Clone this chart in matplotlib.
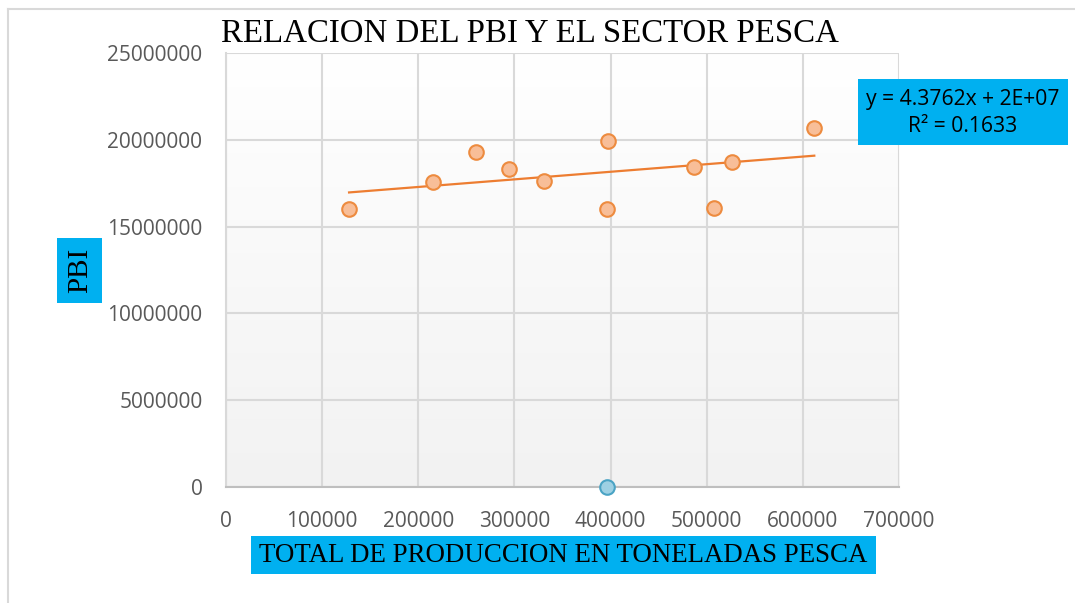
import numpy as np
import matplotlib
matplotlib.use("Agg")
import matplotlib.pyplot as plt
from matplotlib.lines import Line2D

# ---- data ----
produccion = [128000, 215400, 260100, 294500, 330900, 397500, 396500, 487000, 507800, 526500, 611900]
pbi = [16010000, 17570000, 19300000, 18320000, 17630000, 19930000, 16010000, 18430000, 16070000, 18720000, 20680000]
extra_x = [396800]
extra_y = [0]
slope = 4.3762
eq_text = "y = 4.3762x + 2E+07"
r2_text = "R² = 0.1633"
title = "RELACION DEL PBI Y EL SECTOR PESCA"
xlabel = "TOTAL DE PRODUCCION EN TONELADAS PESCA"
ylabel = "PBI"
xticks = [0, 100000, 200000, 300000, 400000, 500000, 600000, 700000]
yticks = [0, 5000000, 10000000, 15000000, 20000000, 25000000]

W, H = 1075, 603
fig = plt.figure(figsize=(W / 100, H / 100), dpi=100)
fig.patch.set_facecolor("white")

# outer chart border (top and left visible)
fig.add_artist(Line2D([8 / W, 1.0], [1 - 9 / H, 1 - 9 / H], color="#d9d9d9", lw=1.5, transform=fig.transFigure))
fig.add_artist(Line2D([8 / W, 8 / W], [0, 1 - 9 / H], color="#d9d9d9", lw=1.5, transform=fig.transFigure))

L, R, T, B = 226, 899, 53, 487
ax = fig.add_axes([L / W, 1 - B / H, (R - L) / W, (B - T) / H])
ax.set_xlim(0, 700000)
ax.set_ylim(0, 25000000)

# gradient background
grad = np.linspace(1.0, 0.0, 256).reshape(-1, 1)
top = np.array([1.0, 1.0, 1.0])
bot = np.array([0xf2, 0xf2, 0xf2]) / 255.0
img = top * grad[..., None] + bot * (1 - grad[..., None])
ax.imshow(img, extent=[0, 1, 0, 1], transform=ax.transAxes, aspect="auto", zorder=0)

ax.set_xticks(xticks)
ax.set_yticks(yticks)
ax.set_xticklabels([str(v) for v in xticks])
ax.set_yticklabels([str(v) for v in yticks])
ax.grid(True, color="#d9d9d9", lw=1.5, zorder=1)
ax.set_axisbelow(True)
for s in ["top", "right"]:
    ax.spines[s].set_visible(False)
ax.spines["left"].set_color("#d9d9d9")
ax.spines["left"].set_linewidth(1.5)
ax.spines["bottom"].set_color("#bfbfbf")
ax.spines["bottom"].set_linewidth(1.5)
ax.tick_params(length=0, colors="#595959", labelsize=15)
ax.tick_params(axis="y", pad=17)
ax.tick_params(axis="x", pad=17)
for lab in ax.get_xticklabels() + ax.get_yticklabels():
    lab.set_fontfamily("Open Sans")

# trendline
xm = np.mean(produccion)
ym = np.mean(pbi)
intercept = ym - slope * xm
tx = np.array([min(produccion), max(produccion)])
ax.plot(tx, slope * tx + intercept, color="#ED7D31", lw=1.6, zorder=3)

ax.scatter(produccion, pbi, s=110, facecolor="#F8BE98", edgecolor="#ED8B3F", linewidth=1.5, zorder=4, clip_on=False)
ax.scatter(extra_x, extra_y, s=110, facecolor="#9DD0E3", edgecolor="#4AA3C4", linewidth=1.5, zorder=5, clip_on=False)

# title
fig.text(530 / W, 1 - 34 / H, title, ha="center", va="center", fontsize=23.7,
         fontfamily="Liberation Serif", color="black")

# x label with blue box
fig.patches.append(plt.Rectangle((251 / W, 1 - 574 / H), 625 / W, 38 / H, transform=fig.transFigure,
                                 facecolor="#00B0F0", edgecolor="none", zorder=5))
fig.text(563 / W, 1 - 555 / H, xlabel, ha="center", va="center", fontsize=19.4,
         fontfamily="Liberation Serif", color="black", zorder=6)

# y label with blue box
fig.patches.append(plt.Rectangle((57 / W, 1 - 303 / H), 45 / W, 65 / H, transform=fig.transFigure,
                                 facecolor="#00B0F0", edgecolor="none", zorder=5))
fig.text(80 / W, 1 - 270 / H, ylabel, ha="center", va="center", fontsize=21, rotation=90,
         fontfamily="Liberation Serif", color="black", zorder=6)

# equation box
fig.patches.append(plt.Rectangle((858 / W, 1 - 145 / H), 210 / W, 66 / H, transform=fig.transFigure,
                                 facecolor="#00B0F0", edgecolor="none", zorder=5))
fig.text(963 / W, 1 - 99 / H, eq_text, ha="center", va="center", fontsize=15.2,
         fontfamily="Open Sans", color="black", zorder=6)
fig.text(963 / W, 1 - 127 / H, r2_text, ha="center", va="center", fontsize=15.2,
         fontfamily="Open Sans", color="black", zorder=6)

fig.savefig("out.png", dpi=100)
